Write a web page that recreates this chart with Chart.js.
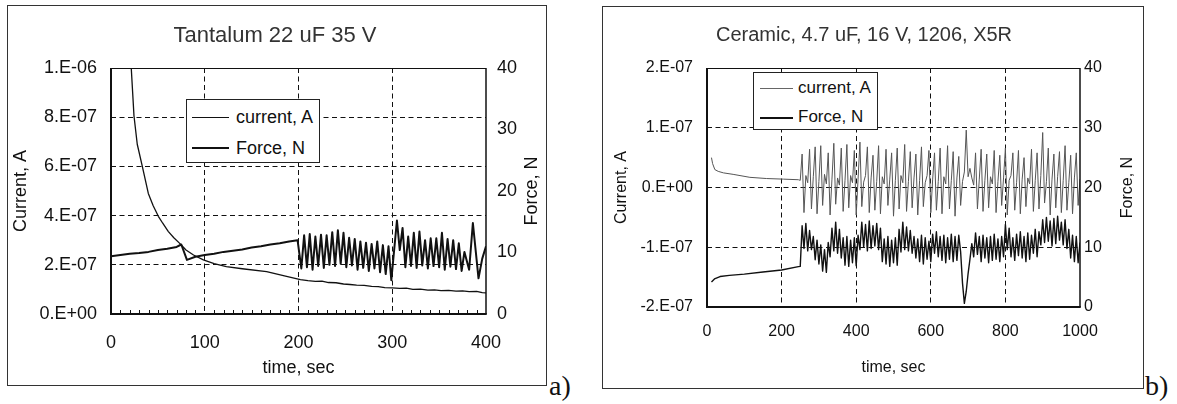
<!DOCTYPE html>
<html>
<head>
<meta charset="utf-8">
<script src="https://cdn.jsdelivr.net/npm/chart.js@4.4.0/dist/chart.umd.min.js"></script>
<style>
  body { margin: 0; width: 1177px; height: 404px; position: relative; overflow: hidden; background: #fff;
         font-family: "Liberation Sans", Arial, sans-serif; color: #111; }
  .abs { position: absolute; }
  .box { position: absolute; border: 1px solid #333; box-sizing: border-box; }
  .title { position: absolute; text-align: center; color: #333; white-space: nowrap; }
  .legend { position: absolute; border: 1px solid #222; background: #fff; box-sizing: border-box; }
  .leg-text { position: absolute; white-space: nowrap; }
  .tag { position: absolute; font-family: "Liberation Serif", "Times New Roman", serif; font-size: 28px; line-height: 28px; }
  canvas { position: absolute; }
</style>
</head>
<body>
<!-- a) tantalum -->
<div class="box" style="left:7px;top:5px;width:540px;height:381px"></div>
<canvas id="chartA" width="539" height="381" style="left:7px;top:5px"></canvas>
<div class="title" style="left:0;width:550px;top:22px;font-size:22px;line-height:26px">Tantalum 22 uF 35 V</div>
<div class="legend" style="left:186px;top:99px;width:134px;height:64px"></div>
<div class="abs" style="left:192px;top:117px;width:37px;height:1px;background:#111"></div>
<div class="leg-text" style="left:236px;top:106px;font-size:18px;line-height:22px">current, A</div>
<div class="abs" style="left:192px;top:147px;width:37px;height:2px;background:#111"></div>
<div class="leg-text" style="left:236px;top:137px;font-size:18px;line-height:22px">Force, N</div>
<div class="tag" style="left:549px;top:372px">a)</div>

<!-- b) ceramic -->
<div class="box" style="left:602px;top:6px;width:542px;height:383px"></div>
<canvas id="chartB" width="541" height="383" style="left:602px;top:6px"></canvas>
<div class="title" style="left:564px;width:600px;top:22px;font-size:20px;line-height:24px">Ceramic, 4.7 uF, 16 V, 1206, X5R</div>
<div class="legend" style="left:753px;top:72px;width:125px;height:58px"></div>
<div class="abs" style="left:760px;top:88px;width:33px;height:1px;background:#666"></div>
<div class="leg-text" style="left:798px;top:78px;font-size:17px;line-height:20px">current, A</div>
<div class="abs" style="left:760px;top:117px;width:33px;height:1.5px;background:#111"></div>
<div class="leg-text" style="left:798px;top:107px;font-size:17px;line-height:20px">Force, N</div>
<div class="tag" style="left:1145px;top:372px">b)</div>

<script>
// ---- a) tantalum 22 uF 35 V ----
const tCurA = [18, 21.6, 24.5, 28, 33.4, 39.8, 45, 50.5, 55, 61,
  67, 73, 80, 88, 98.5, 110, 123, 140, 166, 185,
  202, 210, 218, 225, 232, 240, 248, 255, 262, 270,
  278, 285, 292, 300, 308, 315, 322, 330, 338, 345,
  352, 360, 368, 375, 382, 390, 396, 400];
const curA = [1.2e-6, 1.0e-6, 8.06e-7, 6.9e-7, 6.0e-7, 4.9e-7, 4.4e-7, 3.97e-7, 3.7e-7, 3.36e-7,
  3.1e-7, 2.88e-7, 2.6e-7, 2.4e-7, 2.2e-7, 2.05e-7, 1.93e-7, 1.84e-7, 1.72e-7, 1.55e-7,
  1.4e-7, 1.36e-7, 1.33e-7, 1.34e-7, 1.28e-7, 1.27e-7, 1.22e-7, 1.2e-7, 1.17e-7, 1.16e-7,
  1.12e-7, 1.11e-7, 1.07e-7, 1.06e-7, 1.04e-7, 1.05e-7, 1.0e-7, 1.01e-7, 0.97e-7, 0.98e-7,
  0.95e-7, 0.96e-7, 0.93e-7, 0.94e-7, 0.91e-7, 0.92e-7, 0.87e-7, 0.86e-7];

const tForceA = [0, 10, 20, 30, 40, 50, 60, 70, 75, 81, 90, 100, 110, 120, 130, 140, 150, 160, 170, 180, 190, 199,
  203, 206, 209, 212, 215, 218, 221, 224, 227, 230, 233, 236, 239, 242, 245, 248, 251, 254, 257, 260,
  263, 266, 269, 272, 275, 278, 281, 284, 287, 290, 293, 296, 299,
  305, 308, 311, 314, 317, 320, 323, 326, 329, 332, 335, 338, 341, 344, 347, 350, 353, 356, 359, 362,
  365, 368, 371, 374, 377, 382, 386, 392, 396, 400];
const forceA = [9.4, 9.6, 9.8, 9.9, 10.1, 10.4, 10.6, 10.9, 11.3, 8.8, 9.3, 9.6, 9.8, 10.1, 10.3, 10.5, 10.8, 11.0, 11.3, 11.5, 11.8, 12.0,
  7.4, 12.8, 7.6, 13.0, 7.2, 12.6, 7.8, 12.9, 7.5, 12.8, 8.0, 13.3, 7.8, 13.6, 8.2, 13.2, 7.6, 12.4, 7.9, 12.2,
  7.2, 11.8, 7.5, 11.6, 7.0, 11.4, 7.4, 11.8, 6.8, 11.2, 6.5, 11.0, 5.5,
  15.2, 10.4, 14.0, 7.6, 12.6, 7.8, 13.2, 7.5, 13.4, 7.9, 12.0, 7.4, 12.3, 7.8, 12.3, 7.6, 13.2, 7.2, 12.2, 7.7,
  12.0, 7.3, 11.5, 7.0, 10.1, 7.2, 14.8, 5.8, 9.0, 11.0];

const xTicksA = [0, 100, 200, 300, 400];
const curTicksA = [0, 2e-7, 4e-7, 6e-7, 8e-7, 1e-6];
const forceTicks = [0, 10, 20, 30, 40];

// ---- b) ceramic 4.7 uF 16 V 1206 X5R ----
const tCurB0 = [12, 15, 21, 30, 44, 70, 115, 160, 205, 245];
const curB0 = [5.0e-8, 4.0e-8, 3.0e-8, 2.7e-8, 2.45e-8, 2.2e-8, 1.7e-8, 1.5e-8, 1.4e-8, 1.3e-8];
const tForceB0 = [12, 20, 35, 60, 100, 150, 200, 245];
const forceB0 = [4.2, 4.7, 5.1, 5.3, 5.5, 5.85, 6.2, 6.75];

// common sample times once the load starts cycling
const tB = [250, 255, 260, 265, 270, 275, 280, 285, 290, 295,
  300, 305, 310, 315, 320, 325, 330, 335, 340, 345,
  350, 355, 360, 365, 370, 375, 380, 385, 390, 395,
  400, 405, 410, 415, 420, 425, 430, 435, 440, 445,
  450, 455, 460, 465, 470, 475, 480, 485, 490, 495,
  500, 505, 510, 515, 520, 525, 530, 535, 540, 545,
  550, 555, 560, 565, 570, 575, 580, 585, 590, 595,
  600, 605, 610, 615, 620, 625, 630, 635, 640, 645,
  650, 655, 660, 665, 670, 675, 680, 685, 690, 695,
  700, 705, 710, 715, 720, 725, 730, 735, 740, 745,
  750, 755, 760, 765, 770, 775, 780, 785, 790, 795,
  800, 805, 810, 815, 820, 825, 830, 835, 840, 845,
  850, 855, 860, 865, 870, 875, 880, 885, 890, 895,
  900, 905, 910, 915, 920, 925, 930, 935, 940, 945,
  950, 955, 960, 965, 970, 975, 980, 985, 990, 995,
  1000];
const curB = [1.2e-8, 5.6e-8, -4.2e-8, 2.0e-8, 0.8e-8, 6.4e-8, -3.6e-8, 1.8e-8, 6.8e-8, -4.4e-8,
  1.0e-8, 7.0e-8, -3.0e-8, 2.2e-8, 0.6e-8, 5.8e-8, -4.6e-8, 1.4e-8, 7.4e-8, -2.8e-8,
  1.6e-8, 0.4e-8, 6.6e-8, -4.0e-8, 1.2e-8, 7.2e-8, -3.4e-8, 2.0e-8, 0.8e-8, 6.2e-8,
  -4.6e-8, 1.4e-8, 7.6e-8, -3.2e-8, 0.9e-8, 2.0e-8, 6.8e-8, -4.2e-8, 1.6e-8, 5.4e-8,
  -3.8e-8, 1.0e-8, 7.0e-8, -4.4e-8, 1.8e-8, 0.6e-8, 6.4e-8, -3.0e-8, 1.4e-8, 5.8e-8,
  -4.8e-8, 1.2e-8, 6.6e-8, -3.6e-8, 2.0e-8, 0.8e-8, 7.2e-8, -4.0e-8, 1.0e-8, 6.0e-8,
  -3.4e-8, 1.6e-8, 5.6e-8, -4.6e-8, 1.2e-8, 6.8e-8, -3.2e-8, 0.8e-8, 2.0e-8, 6.2e-8,
  -4.2e-8, 1.4e-8, 5.8e-8, -3.8e-8, 1.0e-8, 6.6e-8, -4.4e-8, 1.8e-8, 0.6e-8, 7.0e-8,
  -3.6e-8, 1.2e-8, 6.0e-8, -4.8e-8, 1.6e-8, 5.2e-8, -3.0e-8, 1.0e-8, 2.6e-8, 9.6e-8,
  1.8e-8, 3.2e-8, 1.6e-8, 0.4e-8, 5.8e-8, -3.6e-8, 1.4e-8, 6.4e-8, -4.0e-8, 1.2e-8,
  5.6e-8, -3.4e-8, 1.8e-8, 0.6e-8, 6.2e-8, -4.2e-8, 1.0e-8, 5.4e-8, -3.0e-8, 1.6e-8,
  6.6e-8, -4.6e-8, 1.2e-8, 2.0e-8, 5.8e-8, -3.8e-8, 0.8e-8, 6.2e-8, -4.4e-8, 1.4e-8,
  5.0e-8, -3.2e-8, 1.6e-8, 0.6e-8, 6.4e-8, -4.0e-8, 1.2e-8, 5.8e-8, -3.6e-8, 2.0e-8,
  9.2e-8, -2.6e-8, 1.0e-8, 6.6e-8, -4.6e-8, 1.4e-8, 5.6e-8, -3.4e-8, 1.8e-8, 6.0e-8,
  -4.2e-8, 1.2e-8, 7.0e-8, -3.8e-8, 0.8e-8, 5.4e-8, -4.4e-8, 1.6e-8, 5.8e-8, -3.0e-8,
  1.4e-8];
const forceB = [6.8, 13.6, 9.8, 14.0, 9.4, 12.8, 9.6, 11.8, 7.9, 11.2,
  7.2, 10.4, 6.0, 9.6, 5.8, 10.8, 8.4, 13.2, 9.4, 14.2,
  9.0, 13.0, 8.2, 11.6, 7.0, 11.8, 6.8, 11.2, 7.4, 11.6,
  6.9, 12.0, 9.6, 14.2, 10.0, 13.8, 9.4, 14.4, 9.8, 13.6,
  10.2, 14.0, 9.6, 13.2, 7.6, 11.4, 7.2, 11.8, 6.8, 11.2,
  7.4, 11.6, 7.0, 13.0, 9.2, 14.2, 9.6, 13.4, 9.4, 12.8,
  9.0, 11.8, 8.2, 11.4, 7.6, 12.0, 7.2, 11.6, 8.0, 11.0,
  7.6, 12.2, 9.0, 12.6, 8.4, 11.8, 7.8, 12.0, 7.4, 11.6,
  8.0, 12.2, 7.6, 11.8, 7.8, 12.0, 9.2, 4.0, 0.6, 2.6,
  5.6, 8.0, 10.6, 8.4, 12.4, 8.8, 11.8, 7.6, 12.0, 8.2,
  11.6, 7.4, 11.8, 7.8, 12.2, 8.0, 11.4, 7.6, 11.8, 8.4,
  13.8, 9.6, 13.2, 8.4, 11.6, 7.8, 12.2, 8.6, 12.6, 8.2,
  11.8, 7.6, 12.4, 8.0, 12.0, 9.0, 13.0, 8.4, 12.6, 10.4,
  14.6, 10.8, 15.0, 11.0, 14.4, 10.2, 14.8, 10.6, 15.2, 11.2,
  14.2, 10.4, 14.6, 9.8, 13.0, 8.2, 12.0, 7.6, 11.8, 7.4,
  10.8];

const xTicksB = [0, 200, 400, 600, 800, 1000];
const curTicksB = [-2e-7, -1e-7, 0, 1e-7, 2e-7];

const FAMILY = '"Liberation Sans", Arial, sans-serif';
Chart.defaults.font.family = FAMILY;
Chart.defaults.color = '#111';

const pts = (t, v) => t.map((x, i) => ({ x, y: v[i] }));

// Excel-style labels: 2.E-07, 0.E+00
function sci(v) {
  if (Math.abs(v) < 1e-15) return '0.E+00';
  const e = Math.floor(Math.log10(Math.abs(v)) + 1e-9);
  const m = Math.round(v / Math.pow(10, e));
  return m + '.E' + (e < 0 ? '-' : '+') + String(Math.abs(e)).padStart(2, '0');
}

// no dashed grid line on top of the plot frame
const inner = c => (c.tick && (c.tick.value === c.scale.min || c.tick.value === c.scale.max)) ? 'rgba(0,0,0,0)' : '#111';

const frame = {
  id: 'frame',
  afterDatasetsDraw(chart, args, o) {
    const { ctx, chartArea: a } = chart;
    const xs = chart.scales.x;
    ctx.save();
    ctx.strokeStyle = '#111';
    ctx.lineWidth = 1;
    ctx.beginPath();
    (o.minor || []).forEach(v => {
      const px = Math.round(xs.getPixelForValue(v)) + 0.5;
      ctx.moveTo(px, a.bottom);
      ctx.lineTo(px, a.bottom - 4);
    });
    ctx.stroke();
    const edge = (w, x1, y1, x2, y2) => {
      ctx.lineWidth = w;
      ctx.beginPath();
      ctx.moveTo(x1, y1);
      ctx.lineTo(x2, y2);
      ctx.stroke();
    };
    edge(1, a.left, a.top + 0.5, a.right, a.top + 0.5);
    edge(1.5, a.right, a.top, a.right, a.bottom);
    edge(2, a.left, a.top, a.left, a.bottom + 1);
    edge(2, a.left - 1, a.bottom, a.right + 0.75, a.bottom);
    // right-hand axis title, reading upward
    ctx.fillStyle = '#111';
    ctx.font = o.font;
    ctx.textAlign = 'center';
    ctx.textBaseline = 'middle';
    ctx.translate(o.rightX, (a.top + a.bottom) / 2);
    ctx.rotate(-Math.PI / 2);
    ctx.fillText(o.rightTitle, 0, 0);
    ctx.restore();
  }
};

function build(id, p) {
  const font = { size: p.fs, family: FAMILY };
  const dash = [5, 3.5];
  return new Chart(document.getElementById(id), {
    type: 'line',
    data: {
      datasets: [
        { label: 'current, A', data: p.current, yAxisID: 'y', borderColor: p.curColor, borderWidth: p.curWidth },
        { label: 'Force, N', data: p.force, yAxisID: 'y1', borderColor: '#111', borderWidth: p.forceWidth }
      ]
    },
    options: {
      responsive: false,
      animation: false,
      events: [],
      layout: { padding: { top: p.top, left: 0, right: 0, bottom: 0 } },
      elements: {
        point: { radius: 0 },
        line: { tension: 0, borderJoinStyle: 'round', fill: false }
      },
      scales: {
        x: {
          type: 'linear', min: 0, max: p.xTicks[p.xTicks.length - 1],
          afterBuildTicks: s => { s.ticks = p.xTicks.map(v => ({ value: v })); },
          afterFit: s => { s.height = p.bottom; },
          grid: { color: inner, lineWidth: 1, drawTicks: false },
          border: { display: false, dash },
          ticks: { font, color: '#111', padding: p.xPad, maxRotation: 0, callback: v => String(v) },
          title: { display: true, text: 'time, sec', color: '#111', font, padding: { top: 0, bottom: p.xTitlePad } }
        },
        y: {
          position: 'left', min: p.curTicks[0], max: p.curTicks[p.curTicks.length - 1],
          afterBuildTicks: s => { s.ticks = p.curTicks.map(v => ({ value: v })); },
          afterFit: s => { s.width = p.left; },
          grid: { color: inner, lineWidth: 1, drawTicks: false },
          border: { display: false, dash },
          ticks: { font, color: '#111', padding: p.yPad, callback: v => sci(v) },
          title: { display: true, text: 'Current, A', color: '#111', font, padding: { top: p.yTitlePad, bottom: 0 } }
        },
        y1: {
          position: 'right', min: 0, max: 40,
          afterBuildTicks: s => { s.ticks = forceTicks.map(v => ({ value: v })); },
          afterFit: s => { s.width = p.right; },
          grid: { drawOnChartArea: false, drawTicks: false },
          border: { display: false },
          ticks: { font, color: '#111', padding: p.y1Pad, callback: v => String(v) }
        }
      },
      plugins: {
        legend: { display: false },
        tooltip: { enabled: false },
        frame: { minor: p.minor, rightTitle: 'Force, N', rightX: p.rightX, font: p.fs + 'px ' + FAMILY }
      }
    },
    plugins: [frame]
  });
}

const minorA = [];
for (let s = 10; s < 400; s += 10) if (s % 100) minorA.push(s);

build('chartA', {
  current: pts(tCurA, curA),
  force: pts(tForceA, forceA),
  curColor: '#111', curWidth: 1.3, forceWidth: 2,
  xTicks: xTicksA, curTicks: curTicksA,
  fs: 18, top: 63, left: 104, right: 60, bottom: 72,
  xPad: 18, xTitlePad: 7, yPad: 14, yTitlePad: 3, y1Pad: 11,
  rightX: 525, minor: minorA
});

build('chartB', {
  current: pts(tCurB0, curB0).concat(pts(tB, curB)),
  force: pts(tForceB0, forceB0).concat(pts(tB, forceB)),
  curColor: '#555', curWidth: 1, forceWidth: 1.4,
  xTicks: xTicksB, curTicks: curTicksB,
  fs: 16, top: 62, left: 105, right: 63, bottom: 82,
  xPad: 15, xTitlePad: 12, yPad: 14, yTitlePad: 10, y1Pad: 4,
  rightX: 526, minor: []
});
</script>
</body>
</html>
